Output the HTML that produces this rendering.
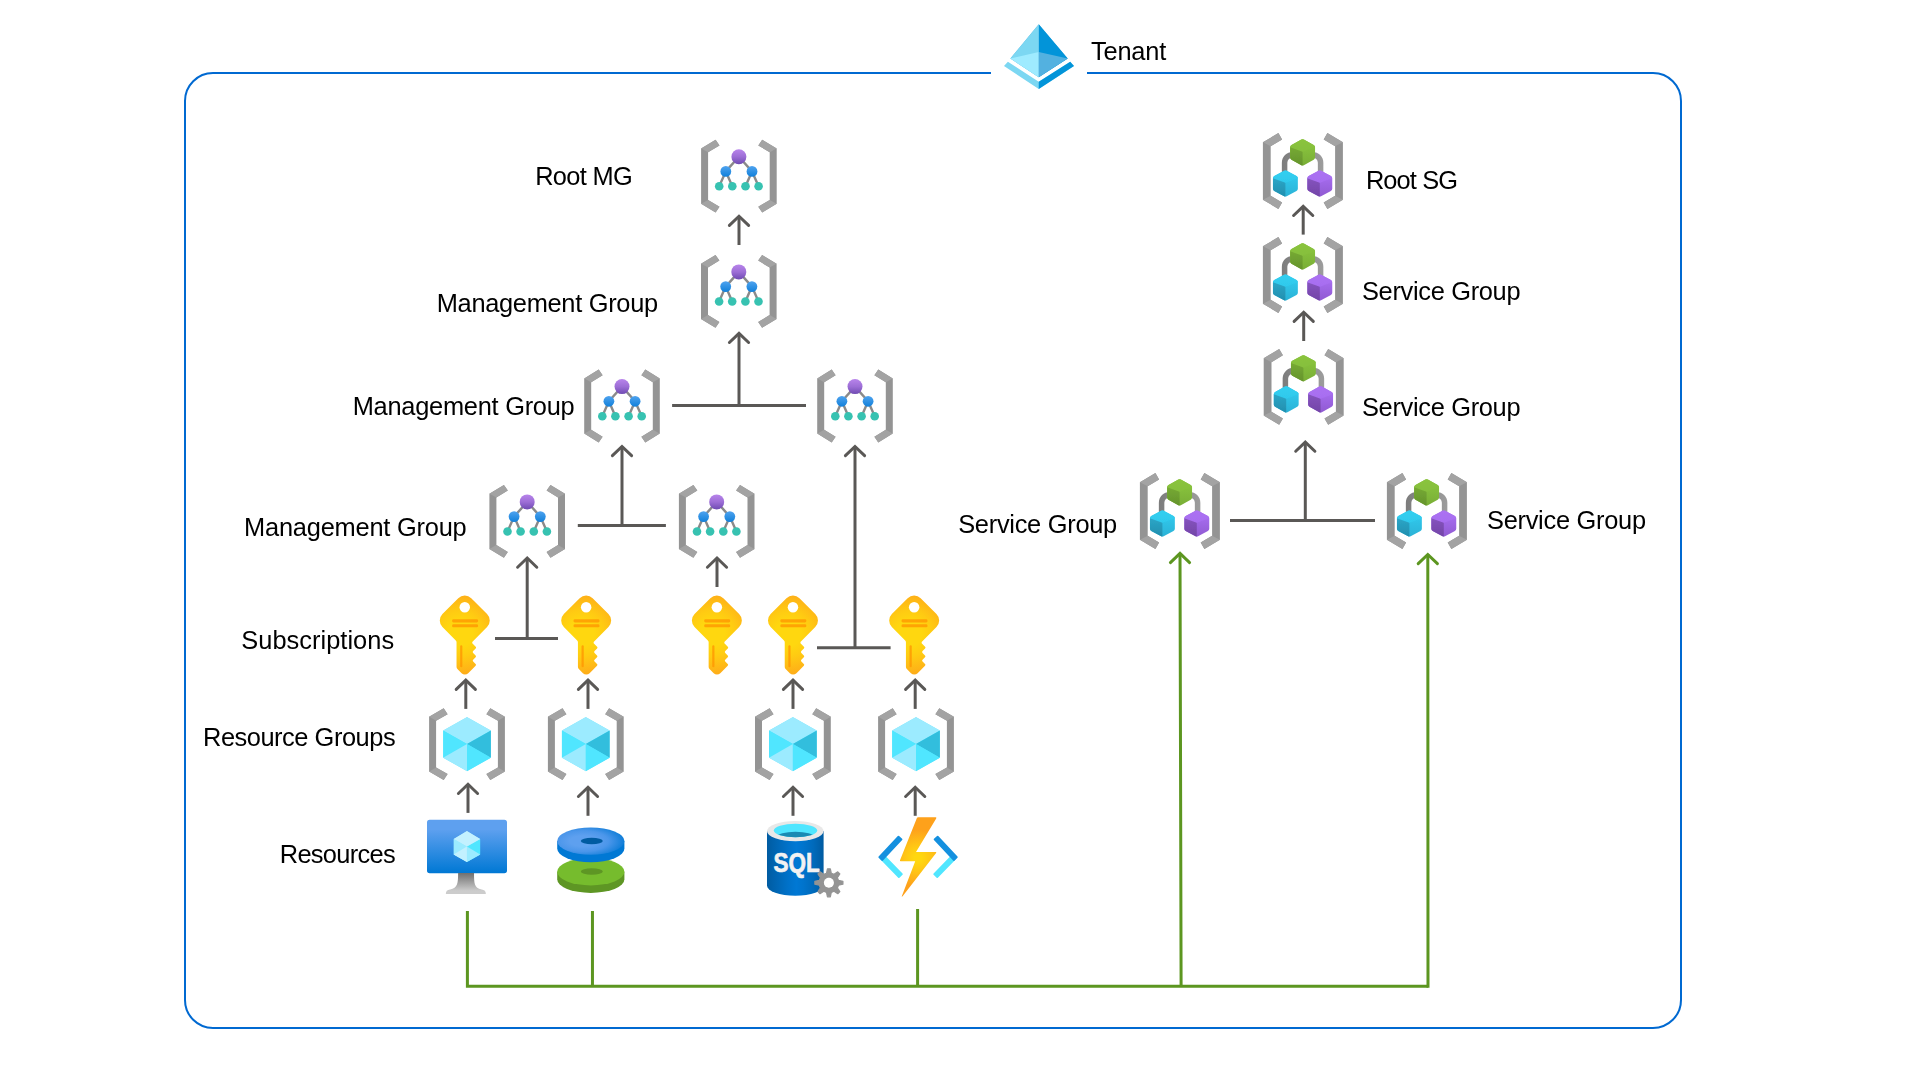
<!DOCTYPE html>
<html lang="en"><head><meta charset="utf-8"><title>Tenant hierarchy</title>
<style>html,body{margin:0;padding:0;background:#fff;}body{width:1920px;height:1080px;overflow:hidden;}svg{display:block;}text{font-family:"Liberation Sans",sans-serif;}.lbl text{font-size:25.4px;fill:#000;}</style></head><body>
<svg width="1920" height="1080" viewBox="0 0 1920 1080">
<defs>
<linearGradient id="gPurple" x1="0" y1="0" x2="0" y2="1"><stop offset="0" stop-color="#b884eb"/><stop offset="0.5" stop-color="#9d6ed6"/><stop offset="1" stop-color="#6f4bb2"/></linearGradient>
<linearGradient id="gBlueC" x1="0" y1="0" x2="0" y2="1"><stop offset="0" stop-color="#4fa3ef"/><stop offset="1" stop-color="#1180da"/></linearGradient>
<linearGradient id="gConn" gradientUnits="userSpaceOnUse" x1="-20" y1="0" x2="20" y2="0"><stop offset="0" stop-color="#7d7d7d"/><stop offset="1" stop-color="#9c9c9c"/></linearGradient>
<radialGradient id="gKey" gradientUnits="userSpaceOnUse" cx="7.45" cy="8.7" r="10.5"><stop offset="0.27" stop-color="#ffd70f"/><stop offset="0.49" stop-color="#ffcb12"/><stop offset="0.88" stop-color="#feac19"/><stop offset="1" stop-color="#fea11b"/></radialGradient>
<linearGradient id="gVM" x1="0" y1="1" x2="0" y2="0"><stop offset="0" stop-color="#0078d4"/><stop offset="0.82" stop-color="#5ea0ef"/></linearGradient>
<linearGradient id="gStand" x1="0" y1="1" x2="0" y2="0"><stop offset="0.15" stop-color="#ccc"/><stop offset="1" stop-color="#707070"/></linearGradient>
<radialGradient id="gDisk" cx="0.38" cy="0.5" r="0.64"><stop offset="0.3" stop-color="#5ea0ef"/><stop offset="0.6" stop-color="#4b96ea"/><stop offset="1" stop-color="#0a7bd6"/></radialGradient>
<linearGradient id="gSQL" x1="0" y1="0" x2="1" y2="0"><stop offset="0" stop-color="#005ba1"/><stop offset="0.07" stop-color="#0060a9"/><stop offset="0.36" stop-color="#0071c8"/><stop offset="0.52" stop-color="#0078d4"/><stop offset="0.64" stop-color="#0074cd"/><stop offset="0.82" stop-color="#006abb"/><stop offset="1" stop-color="#005ba1"/></linearGradient>
<radialGradient id="gBolt" gradientUnits="userSpaceOnUse" cx="40" cy="41" r="38"><stop offset="0.1" stop-color="#ffd70f"/><stop offset="0.35" stop-color="#ffc515"/><stop offset="0.75" stop-color="#fea11b"/><stop offset="1" stop-color="#fea11b"/></radialGradient>
<clipPath id="cpGr"><path d="M-1.24,-31.38 A2.6,2.6 0 0 1 1.24,-31.38 L11.09,-26.06 A2.6,2.6 0 0 1 12.45,-23.77 L12.45,-13.43 A2.6,2.6 0 0 1 11.09,-11.14 L1.24,-5.82 A2.6,2.6 0 0 1 -1.24,-5.82 L-11.09,-11.14 A2.6,2.6 0 0 1 -12.45,-13.43 L-12.45,-23.77 A2.6,2.6 0 0 1 -11.09,-26.06Z"/></clipPath><clipPath id="cpCy"><path d="M-18.44,-0.28 A2.6,2.6 0 0 1 -15.96,-0.28 L-6.11,5.04 A2.6,2.6 0 0 1 -4.75,7.33 L-4.75,17.67 A2.6,2.6 0 0 1 -6.11,19.96 L-15.96,25.28 A2.6,2.6 0 0 1 -18.44,25.28 L-28.29,19.96 A2.6,2.6 0 0 1 -29.65,17.67 L-29.65,7.33 A2.6,2.6 0 0 1 -28.29,5.04Z"/></clipPath><clipPath id="cpPu"><path d="M15.96,-0.28 A2.6,2.6 0 0 1 18.44,-0.28 L28.29,5.04 A2.6,2.6 0 0 1 29.65,7.33 L29.65,17.67 A2.6,2.6 0 0 1 28.29,19.96 L18.44,25.28 A2.6,2.6 0 0 1 15.96,25.28 L6.11,19.96 A2.6,2.6 0 0 1 4.75,17.67 L4.75,7.33 A2.6,2.6 0 0 1 6.11,5.04Z"/></clipPath><linearGradient id="gGrT" x1="0" y1="0" x2="0" y2="1"><stop offset="0" stop-color="#8cc63f"/><stop offset="1" stop-color="#86bf3c"/></linearGradient><linearGradient id="gGrL" x1="0" y1="0" x2="0" y2="1"><stop offset="0.3" stop-color="#74a733"/><stop offset="1" stop-color="#5f8c29"/></linearGradient><linearGradient id="gGrR" x1="0" y1="0" x2="0" y2="1"><stop offset="0.3" stop-color="#86c03c"/><stop offset="1" stop-color="#79ae36"/></linearGradient><linearGradient id="gCyT" x1="0" y1="0" x2="0" y2="1"><stop offset="0" stop-color="#33d2f2"/><stop offset="1" stop-color="#2fc9ec"/></linearGradient><linearGradient id="gCyL" x1="0" y1="0" x2="0" y2="1"><stop offset="0.3" stop-color="#2aa3c4"/><stop offset="1" stop-color="#1f87a6"/></linearGradient><linearGradient id="gCyR" x1="0" y1="0" x2="0" y2="1"><stop offset="0.3" stop-color="#30c6ea"/><stop offset="1" stop-color="#2bb2d6"/></linearGradient><linearGradient id="gPuT" x1="0" y1="0" x2="0" y2="1"><stop offset="0" stop-color="#ae74f3"/><stop offset="1" stop-color="#a76df0"/></linearGradient><linearGradient id="gPuL" x1="0" y1="0" x2="0" y2="1"><stop offset="0.3" stop-color="#8352bb"/><stop offset="1" stop-color="#6c3f9f"/></linearGradient><linearGradient id="gPuR" x1="0" y1="0" x2="0" y2="1"><stop offset="0.3" stop-color="#a46bec"/><stop offset="1" stop-color="#905ad2"/></linearGradient><filter id="soft" x="-10%" y="-10%" width="120%" height="120%"><feGaussianBlur stdDeviation="0.45"/></filter>
</defs>
<path d="M1087,73 H1653 A28,28 0 0 1 1681,101 V1000 A28,28 0 0 1 1653,1028 H213 A28,28 0 0 1 185,1000 V101 A28,28 0 0 1 213,73 H991" fill="none" stroke="#0069d1" stroke-width="2"/>
<polygon points="1038.75,24.2 1067.7,58.5 1038.75,77.3 1010.4,58.5" fill="#53b1e0"/><polygon points="1038.75,24.2 1010.4,58.5 1038.75,77.3" fill="#7cd7f2"/><polygon points="1038.95,24.4 1067.7,58.5 1038.95,77.1" fill="#0294d9"/><polygon points="1010.4,58.5 1038.75,51.9 1038.75,77.3" fill="#9febff"/><polygon points="1067.7,58.5 1038.75,51.9 1038.75,77.3" fill="#53b1e0"/><polygon points="1004,66 1007.9,61.7 1038.75,81.8 1070.2,61.7 1074,66 1038.75,89" fill="#7cd7f2"/><polygon points="1074,66 1070.2,61.7 1038.75,81.8 1038.75,89" fill="#0294d9"/>
<path d="M739,245 V216.22" stroke="#5a5856" stroke-width="3" fill="none"/><path d="M729.40,225.42 L739,216.22 L748.60,225.42" stroke="#5a5856" stroke-width="3" fill="none" stroke-linecap="round" stroke-linejoin="miter"/>
<path d="M739,405.5 V333.32" stroke="#5a5856" stroke-width="3" fill="none"/><path d="M729.40,342.52 L739,333.32 L748.60,342.52" stroke="#5a5856" stroke-width="3" fill="none" stroke-linecap="round" stroke-linejoin="miter"/>
<path d="M672.1,405.5 H806" stroke="#5a5856" stroke-width="3" fill="none"/>
<path d="M622,525.6 V446.47" stroke="#5a5856" stroke-width="3" fill="none"/><path d="M612.40,455.67 L622,446.47 L631.60,455.67" stroke="#5a5856" stroke-width="3" fill="none" stroke-linecap="round" stroke-linejoin="miter"/>
<path d="M577.8,525.6 H665.9" stroke="#5a5856" stroke-width="3" fill="none"/>
<path d="M855,647.8 V446.47" stroke="#5a5856" stroke-width="3" fill="none"/><path d="M845.40,455.67 L855,446.47 L864.60,455.67" stroke="#5a5856" stroke-width="3" fill="none" stroke-linecap="round" stroke-linejoin="miter"/>
<path d="M817,647.8 H890.6" stroke="#5a5856" stroke-width="3" fill="none"/>
<path d="M527.2,638.5 V558.02" stroke="#5a5856" stroke-width="3" fill="none"/><path d="M517.60,567.22 L527.2,558.02 L536.80,567.22" stroke="#5a5856" stroke-width="3" fill="none" stroke-linecap="round" stroke-linejoin="miter"/>
<path d="M495,638.5 H558" stroke="#5a5856" stroke-width="3" fill="none"/>
<path d="M717,587 V558.02" stroke="#5a5856" stroke-width="3" fill="none"/><path d="M707.40,567.22 L717,558.02 L726.60,567.22" stroke="#5a5856" stroke-width="3" fill="none" stroke-linecap="round" stroke-linejoin="miter"/>
<path d="M465.8,708.9 V680.17" stroke="#5a5856" stroke-width="3" fill="none"/><path d="M456.20,689.37 L465.8,680.17 L475.40,689.37" stroke="#5a5856" stroke-width="3" fill="none" stroke-linecap="round" stroke-linejoin="miter"/>
<path d="M588,708.9 V680.17" stroke="#5a5856" stroke-width="3" fill="none"/><path d="M578.40,689.37 L588,680.17 L597.60,689.37" stroke="#5a5856" stroke-width="3" fill="none" stroke-linecap="round" stroke-linejoin="miter"/>
<path d="M793,708.9 V680.17" stroke="#5a5856" stroke-width="3" fill="none"/><path d="M783.40,689.37 L793,680.17 L802.60,689.37" stroke="#5a5856" stroke-width="3" fill="none" stroke-linecap="round" stroke-linejoin="miter"/>
<path d="M915.2,708.9 V680.17" stroke="#5a5856" stroke-width="3" fill="none"/><path d="M905.60,689.37 L915.2,680.17 L924.80,689.37" stroke="#5a5856" stroke-width="3" fill="none" stroke-linecap="round" stroke-linejoin="miter"/>
<path d="M468,812.9 V784.27" stroke="#5a5856" stroke-width="3" fill="none"/><path d="M458.40,793.47 L468,784.27 L477.60,793.47" stroke="#5a5856" stroke-width="3" fill="none" stroke-linecap="round" stroke-linejoin="miter"/>
<path d="M588,815.8 V787.27" stroke="#5a5856" stroke-width="3" fill="none"/><path d="M578.40,796.47 L588,787.27 L597.60,796.47" stroke="#5a5856" stroke-width="3" fill="none" stroke-linecap="round" stroke-linejoin="miter"/>
<path d="M793,815.8 V787.27" stroke="#5a5856" stroke-width="3" fill="none"/><path d="M783.40,796.47 L793,787.27 L802.60,796.47" stroke="#5a5856" stroke-width="3" fill="none" stroke-linecap="round" stroke-linejoin="miter"/>
<path d="M915.2,815.8 V787.27" stroke="#5a5856" stroke-width="3" fill="none"/><path d="M905.60,796.47 L915.2,787.27 L924.80,796.47" stroke="#5a5856" stroke-width="3" fill="none" stroke-linecap="round" stroke-linejoin="miter"/>
<path d="M1303.2,234.6 V206.32" stroke="#5a5856" stroke-width="3" fill="none"/><path d="M1293.60,215.52 L1303.2,206.32 L1312.80,215.52" stroke="#5a5856" stroke-width="3" fill="none" stroke-linecap="round" stroke-linejoin="miter"/>
<path d="M1303.7,341 V312.22" stroke="#5a5856" stroke-width="3" fill="none"/><path d="M1294.10,321.42 L1303.7,312.22 L1313.30,321.42" stroke="#5a5856" stroke-width="3" fill="none" stroke-linecap="round" stroke-linejoin="miter"/>
<path d="M1305.3,520.4 V442.07" stroke="#5a5856" stroke-width="3" fill="none"/><path d="M1295.70,451.27 L1305.3,442.07 L1314.90,451.27" stroke="#5a5856" stroke-width="3" fill="none" stroke-linecap="round" stroke-linejoin="miter"/>
<path d="M1230,520.4 H1375" stroke="#5a5856" stroke-width="3" fill="none"/>
<path d="M467.4,910.9 V986.35 H1428 M592.45,910.9 V986.35 M917.6,908.9 V986.35" fill="none" stroke="#5c9620" stroke-width="3" stroke-linejoin="miter"/>
<path d="M1181.1,986.35 L1180,553 M1428,987.85 L1427.8,554" fill="none" stroke="#5c9620" stroke-width="3"/>
<path d="M1180,556 V553.37" stroke="#5c9620" stroke-width="3" fill="none"/><path d="M1170.40,562.57 L1180,553.37 L1189.60,562.57" stroke="#5c9620" stroke-width="3" fill="none" stroke-linecap="round" stroke-linejoin="miter"/>
<path d="M1427.8,557 V554.47" stroke="#5c9620" stroke-width="3" fill="none"/><path d="M1418.20,563.67 L1427.8,554.47 L1437.40,563.67" stroke="#5c9620" stroke-width="3" fill="none" stroke-linecap="round" stroke-linejoin="miter"/>
<g transform="translate(738.9,176.1)"><polygon points="-37.80,-27.60 -23.30,-36.40 -19.40,-30.70 -30.80,-23.80 -30.80,23.80 -19.40,30.70 -23.30,36.40 -37.80,27.60" fill="#949494"/><polygon points="-37.80,-27.60 -23.30,-36.40 -19.40,-30.70 -30.80,-23.80" fill="#a3a3a3"/><polygon points="-37.80,27.60 -23.30,36.40 -19.40,30.70 -30.80,23.80" fill="#a3a3a3"/><polygon points="37.80,-27.60 23.30,-36.40 19.40,-30.70 30.80,-23.80 30.80,23.80 19.40,30.70 23.30,36.40 37.80,27.60" fill="#949494"/><polygon points="37.80,-27.60 23.30,-36.40 19.40,-30.70 30.80,-23.80" fill="#a3a3a3"/><polygon points="37.80,27.60 23.30,36.40 19.40,30.70 30.80,23.80" fill="#a3a3a3"/><g stroke="#8a8a8a" stroke-width="2.4" fill="none"><path d="M0,-19.4 L-13.1,-4.7 M0,-19.4 L13.1,-4.7 M-13.1,-4.7 L-19.7,10.2 M-13.1,-4.7 L-6.6,10.2 M13.1,-4.7 L6.6,10.2 M13.1,-4.7 L19.7,10.2"/></g><circle cx="0" cy="-19.4" r="7.5" fill="url(#gPurple)"/><circle cx="-13.1" cy="-4.7" r="5.4" fill="url(#gBlueC)"/><circle cx="13.1" cy="-4.7" r="5.4" fill="url(#gBlueC)"/><circle cx="-19.7" cy="10.2" r="4.3" fill="#37c2b1"/><circle cx="-6.6" cy="10.2" r="4.3" fill="#37c2b1"/><circle cx="6.6" cy="10.2" r="4.3" fill="#37c2b1"/><circle cx="19.7" cy="10.2" r="4.3" fill="#37c2b1"/></g>
<g transform="translate(738.8,291.3)"><polygon points="-37.80,-27.60 -23.30,-36.40 -19.40,-30.70 -30.80,-23.80 -30.80,23.80 -19.40,30.70 -23.30,36.40 -37.80,27.60" fill="#949494"/><polygon points="-37.80,-27.60 -23.30,-36.40 -19.40,-30.70 -30.80,-23.80" fill="#a3a3a3"/><polygon points="-37.80,27.60 -23.30,36.40 -19.40,30.70 -30.80,23.80" fill="#a3a3a3"/><polygon points="37.80,-27.60 23.30,-36.40 19.40,-30.70 30.80,-23.80 30.80,23.80 19.40,30.70 23.30,36.40 37.80,27.60" fill="#949494"/><polygon points="37.80,-27.60 23.30,-36.40 19.40,-30.70 30.80,-23.80" fill="#a3a3a3"/><polygon points="37.80,27.60 23.30,36.40 19.40,30.70 30.80,23.80" fill="#a3a3a3"/><g stroke="#8a8a8a" stroke-width="2.4" fill="none"><path d="M0,-19.4 L-13.1,-4.7 M0,-19.4 L13.1,-4.7 M-13.1,-4.7 L-19.7,10.2 M-13.1,-4.7 L-6.6,10.2 M13.1,-4.7 L6.6,10.2 M13.1,-4.7 L19.7,10.2"/></g><circle cx="0" cy="-19.4" r="7.5" fill="url(#gPurple)"/><circle cx="-13.1" cy="-4.7" r="5.4" fill="url(#gBlueC)"/><circle cx="13.1" cy="-4.7" r="5.4" fill="url(#gBlueC)"/><circle cx="-19.7" cy="10.2" r="4.3" fill="#37c2b1"/><circle cx="-6.6" cy="10.2" r="4.3" fill="#37c2b1"/><circle cx="6.6" cy="10.2" r="4.3" fill="#37c2b1"/><circle cx="19.7" cy="10.2" r="4.3" fill="#37c2b1"/></g>
<g transform="translate(622,406)"><polygon points="-37.80,-27.60 -23.30,-36.40 -19.40,-30.70 -30.80,-23.80 -30.80,23.80 -19.40,30.70 -23.30,36.40 -37.80,27.60" fill="#949494"/><polygon points="-37.80,-27.60 -23.30,-36.40 -19.40,-30.70 -30.80,-23.80" fill="#a3a3a3"/><polygon points="-37.80,27.60 -23.30,36.40 -19.40,30.70 -30.80,23.80" fill="#a3a3a3"/><polygon points="37.80,-27.60 23.30,-36.40 19.40,-30.70 30.80,-23.80 30.80,23.80 19.40,30.70 23.30,36.40 37.80,27.60" fill="#949494"/><polygon points="37.80,-27.60 23.30,-36.40 19.40,-30.70 30.80,-23.80" fill="#a3a3a3"/><polygon points="37.80,27.60 23.30,36.40 19.40,30.70 30.80,23.80" fill="#a3a3a3"/><g stroke="#8a8a8a" stroke-width="2.4" fill="none"><path d="M0,-19.4 L-13.1,-4.7 M0,-19.4 L13.1,-4.7 M-13.1,-4.7 L-19.7,10.2 M-13.1,-4.7 L-6.6,10.2 M13.1,-4.7 L6.6,10.2 M13.1,-4.7 L19.7,10.2"/></g><circle cx="0" cy="-19.4" r="7.5" fill="url(#gPurple)"/><circle cx="-13.1" cy="-4.7" r="5.4" fill="url(#gBlueC)"/><circle cx="13.1" cy="-4.7" r="5.4" fill="url(#gBlueC)"/><circle cx="-19.7" cy="10.2" r="4.3" fill="#37c2b1"/><circle cx="-6.6" cy="10.2" r="4.3" fill="#37c2b1"/><circle cx="6.6" cy="10.2" r="4.3" fill="#37c2b1"/><circle cx="19.7" cy="10.2" r="4.3" fill="#37c2b1"/></g>
<g transform="translate(855,406)"><polygon points="-37.80,-27.60 -23.30,-36.40 -19.40,-30.70 -30.80,-23.80 -30.80,23.80 -19.40,30.70 -23.30,36.40 -37.80,27.60" fill="#949494"/><polygon points="-37.80,-27.60 -23.30,-36.40 -19.40,-30.70 -30.80,-23.80" fill="#a3a3a3"/><polygon points="-37.80,27.60 -23.30,36.40 -19.40,30.70 -30.80,23.80" fill="#a3a3a3"/><polygon points="37.80,-27.60 23.30,-36.40 19.40,-30.70 30.80,-23.80 30.80,23.80 19.40,30.70 23.30,36.40 37.80,27.60" fill="#949494"/><polygon points="37.80,-27.60 23.30,-36.40 19.40,-30.70 30.80,-23.80" fill="#a3a3a3"/><polygon points="37.80,27.60 23.30,36.40 19.40,30.70 30.80,23.80" fill="#a3a3a3"/><g stroke="#8a8a8a" stroke-width="2.4" fill="none"><path d="M0,-19.4 L-13.1,-4.7 M0,-19.4 L13.1,-4.7 M-13.1,-4.7 L-19.7,10.2 M-13.1,-4.7 L-6.6,10.2 M13.1,-4.7 L6.6,10.2 M13.1,-4.7 L19.7,10.2"/></g><circle cx="0" cy="-19.4" r="7.5" fill="url(#gPurple)"/><circle cx="-13.1" cy="-4.7" r="5.4" fill="url(#gBlueC)"/><circle cx="13.1" cy="-4.7" r="5.4" fill="url(#gBlueC)"/><circle cx="-19.7" cy="10.2" r="4.3" fill="#37c2b1"/><circle cx="-6.6" cy="10.2" r="4.3" fill="#37c2b1"/><circle cx="6.6" cy="10.2" r="4.3" fill="#37c2b1"/><circle cx="19.7" cy="10.2" r="4.3" fill="#37c2b1"/></g>
<g transform="translate(527.2,521.3)"><polygon points="-37.80,-27.60 -23.30,-36.40 -19.40,-30.70 -30.80,-23.80 -30.80,23.80 -19.40,30.70 -23.30,36.40 -37.80,27.60" fill="#949494"/><polygon points="-37.80,-27.60 -23.30,-36.40 -19.40,-30.70 -30.80,-23.80" fill="#a3a3a3"/><polygon points="-37.80,27.60 -23.30,36.40 -19.40,30.70 -30.80,23.80" fill="#a3a3a3"/><polygon points="37.80,-27.60 23.30,-36.40 19.40,-30.70 30.80,-23.80 30.80,23.80 19.40,30.70 23.30,36.40 37.80,27.60" fill="#949494"/><polygon points="37.80,-27.60 23.30,-36.40 19.40,-30.70 30.80,-23.80" fill="#a3a3a3"/><polygon points="37.80,27.60 23.30,36.40 19.40,30.70 30.80,23.80" fill="#a3a3a3"/><g stroke="#8a8a8a" stroke-width="2.4" fill="none"><path d="M0,-19.4 L-13.1,-4.7 M0,-19.4 L13.1,-4.7 M-13.1,-4.7 L-19.7,10.2 M-13.1,-4.7 L-6.6,10.2 M13.1,-4.7 L6.6,10.2 M13.1,-4.7 L19.7,10.2"/></g><circle cx="0" cy="-19.4" r="7.5" fill="url(#gPurple)"/><circle cx="-13.1" cy="-4.7" r="5.4" fill="url(#gBlueC)"/><circle cx="13.1" cy="-4.7" r="5.4" fill="url(#gBlueC)"/><circle cx="-19.7" cy="10.2" r="4.3" fill="#37c2b1"/><circle cx="-6.6" cy="10.2" r="4.3" fill="#37c2b1"/><circle cx="6.6" cy="10.2" r="4.3" fill="#37c2b1"/><circle cx="19.7" cy="10.2" r="4.3" fill="#37c2b1"/></g>
<g transform="translate(716.7,521.3)"><polygon points="-37.80,-27.60 -23.30,-36.40 -19.40,-30.70 -30.80,-23.80 -30.80,23.80 -19.40,30.70 -23.30,36.40 -37.80,27.60" fill="#949494"/><polygon points="-37.80,-27.60 -23.30,-36.40 -19.40,-30.70 -30.80,-23.80" fill="#a3a3a3"/><polygon points="-37.80,27.60 -23.30,36.40 -19.40,30.70 -30.80,23.80" fill="#a3a3a3"/><polygon points="37.80,-27.60 23.30,-36.40 19.40,-30.70 30.80,-23.80 30.80,23.80 19.40,30.70 23.30,36.40 37.80,27.60" fill="#949494"/><polygon points="37.80,-27.60 23.30,-36.40 19.40,-30.70 30.80,-23.80" fill="#a3a3a3"/><polygon points="37.80,27.60 23.30,36.40 19.40,30.70 30.80,23.80" fill="#a3a3a3"/><g stroke="#8a8a8a" stroke-width="2.4" fill="none"><path d="M0,-19.4 L-13.1,-4.7 M0,-19.4 L13.1,-4.7 M-13.1,-4.7 L-19.7,10.2 M-13.1,-4.7 L-6.6,10.2 M13.1,-4.7 L6.6,10.2 M13.1,-4.7 L19.7,10.2"/></g><circle cx="0" cy="-19.4" r="7.5" fill="url(#gPurple)"/><circle cx="-13.1" cy="-4.7" r="5.4" fill="url(#gBlueC)"/><circle cx="13.1" cy="-4.7" r="5.4" fill="url(#gBlueC)"/><circle cx="-19.7" cy="10.2" r="4.3" fill="#37c2b1"/><circle cx="-6.6" cy="10.2" r="4.3" fill="#37c2b1"/><circle cx="6.6" cy="10.2" r="4.3" fill="#37c2b1"/><circle cx="19.7" cy="10.2" r="4.3" fill="#37c2b1"/></g>
<g transform="translate(1302.6,171)"><g transform="translate(0.3,0)"><polygon points="-40.00,-28.70 -24.50,-37.90 -20.80,-31.60 -32.20,-24.75 -32.20,24.75 -20.80,31.60 -24.50,37.90 -40.00,28.70" fill="#949494"/><polygon points="-40.00,-28.70 -24.50,-37.90 -20.80,-31.60 -32.20,-24.75" fill="#a3a3a3"/><polygon points="-40.00,28.70 -24.50,37.90 -20.80,31.60 -32.20,24.75" fill="#a3a3a3"/><polygon points="40.00,-28.70 24.50,-37.90 20.80,-31.60 32.20,-24.75 32.20,24.75 20.80,31.60 24.50,37.90 40.00,28.70" fill="#949494"/><polygon points="40.00,-28.70 24.50,-37.90 20.80,-31.60 32.20,-24.75" fill="#a3a3a3"/><polygon points="40.00,28.70 24.50,37.90 20.80,31.60 32.20,24.75" fill="#a3a3a3"/></g><path d="M-6,-16.3 H-10 A8,8 0 0 0 -18,-8.3 V2 M6,-16.3 H10 A8,8 0 0 1 18,-8.3 V2" fill="none" stroke="url(#gConn)" stroke-width="5.5"/><path d="M-1.24,-31.38 A2.6,2.6 0 0 1 1.24,-31.38 L11.09,-26.06 A2.6,2.6 0 0 1 12.45,-23.77 L12.45,-13.43 A2.6,2.6 0 0 1 11.09,-11.14 L1.24,-5.82 A2.6,2.6 0 0 1 -1.24,-5.82 L-11.09,-11.14 A2.6,2.6 0 0 1 -12.45,-13.43 L-12.45,-23.77 A2.6,2.6 0 0 1 -11.09,-26.06Z" fill="url(#gGrR)"/><g clip-path="url(#cpGr)" filter="url(#soft)"><polygon points="-18.45,-31.325000000000003 0,-19.5 0,0.8499999999999979 -18.45,0.8499999999999979" fill="url(#gGrL)"/><polygon points="-18.45,-26.025000000000002 0,-19.3 18.45,-26.025000000000002 18.45,-38.05 -18.45,-38.05" fill="url(#gGrT)"/></g><path d="M-18.44,-0.28 A2.6,2.6 0 0 1 -15.96,-0.28 L-6.11,5.04 A2.6,2.6 0 0 1 -4.75,7.33 L-4.75,17.67 A2.6,2.6 0 0 1 -6.11,19.96 L-15.96,25.28 A2.6,2.6 0 0 1 -18.44,25.28 L-28.29,19.96 A2.6,2.6 0 0 1 -29.65,17.67 L-29.65,7.33 A2.6,2.6 0 0 1 -28.29,5.04Z" fill="url(#gCyR)"/><g clip-path="url(#cpCy)" filter="url(#soft)"><polygon points="-35.65,-0.22499999999999964 -17.2,11.6 -17.2,31.95 -35.65,31.95" fill="url(#gCyL)"/><polygon points="-35.65,5.075 -17.2,11.8 1.25,5.075 1.25,-6.949999999999999 -35.65,-6.949999999999999" fill="url(#gCyT)"/></g><path d="M15.96,-0.28 A2.6,2.6 0 0 1 18.44,-0.28 L28.29,5.04 A2.6,2.6 0 0 1 29.65,7.33 L29.65,17.67 A2.6,2.6 0 0 1 28.29,19.96 L18.44,25.28 A2.6,2.6 0 0 1 15.96,25.28 L6.11,19.96 A2.6,2.6 0 0 1 4.75,17.67 L4.75,7.33 A2.6,2.6 0 0 1 6.11,5.04Z" fill="url(#gPuR)"/><g clip-path="url(#cpPu)" filter="url(#soft)"><polygon points="-1.25,-0.22499999999999964 17.2,11.6 17.2,31.95 -1.25,31.95" fill="url(#gPuL)"/><polygon points="-1.25,5.075 17.2,11.8 35.65,5.075 35.65,-6.949999999999999 -1.25,-6.949999999999999" fill="url(#gPuT)"/></g></g>
<g transform="translate(1302.6,275)"><g transform="translate(0.3,0)"><polygon points="-40.00,-28.70 -24.50,-37.90 -20.80,-31.60 -32.20,-24.75 -32.20,24.75 -20.80,31.60 -24.50,37.90 -40.00,28.70" fill="#949494"/><polygon points="-40.00,-28.70 -24.50,-37.90 -20.80,-31.60 -32.20,-24.75" fill="#a3a3a3"/><polygon points="-40.00,28.70 -24.50,37.90 -20.80,31.60 -32.20,24.75" fill="#a3a3a3"/><polygon points="40.00,-28.70 24.50,-37.90 20.80,-31.60 32.20,-24.75 32.20,24.75 20.80,31.60 24.50,37.90 40.00,28.70" fill="#949494"/><polygon points="40.00,-28.70 24.50,-37.90 20.80,-31.60 32.20,-24.75" fill="#a3a3a3"/><polygon points="40.00,28.70 24.50,37.90 20.80,31.60 32.20,24.75" fill="#a3a3a3"/></g><path d="M-6,-16.3 H-10 A8,8 0 0 0 -18,-8.3 V2 M6,-16.3 H10 A8,8 0 0 1 18,-8.3 V2" fill="none" stroke="url(#gConn)" stroke-width="5.5"/><path d="M-1.24,-31.38 A2.6,2.6 0 0 1 1.24,-31.38 L11.09,-26.06 A2.6,2.6 0 0 1 12.45,-23.77 L12.45,-13.43 A2.6,2.6 0 0 1 11.09,-11.14 L1.24,-5.82 A2.6,2.6 0 0 1 -1.24,-5.82 L-11.09,-11.14 A2.6,2.6 0 0 1 -12.45,-13.43 L-12.45,-23.77 A2.6,2.6 0 0 1 -11.09,-26.06Z" fill="url(#gGrR)"/><g clip-path="url(#cpGr)" filter="url(#soft)"><polygon points="-18.45,-31.325000000000003 0,-19.5 0,0.8499999999999979 -18.45,0.8499999999999979" fill="url(#gGrL)"/><polygon points="-18.45,-26.025000000000002 0,-19.3 18.45,-26.025000000000002 18.45,-38.05 -18.45,-38.05" fill="url(#gGrT)"/></g><path d="M-18.44,-0.28 A2.6,2.6 0 0 1 -15.96,-0.28 L-6.11,5.04 A2.6,2.6 0 0 1 -4.75,7.33 L-4.75,17.67 A2.6,2.6 0 0 1 -6.11,19.96 L-15.96,25.28 A2.6,2.6 0 0 1 -18.44,25.28 L-28.29,19.96 A2.6,2.6 0 0 1 -29.65,17.67 L-29.65,7.33 A2.6,2.6 0 0 1 -28.29,5.04Z" fill="url(#gCyR)"/><g clip-path="url(#cpCy)" filter="url(#soft)"><polygon points="-35.65,-0.22499999999999964 -17.2,11.6 -17.2,31.95 -35.65,31.95" fill="url(#gCyL)"/><polygon points="-35.65,5.075 -17.2,11.8 1.25,5.075 1.25,-6.949999999999999 -35.65,-6.949999999999999" fill="url(#gCyT)"/></g><path d="M15.96,-0.28 A2.6,2.6 0 0 1 18.44,-0.28 L28.29,5.04 A2.6,2.6 0 0 1 29.65,7.33 L29.65,17.67 A2.6,2.6 0 0 1 28.29,19.96 L18.44,25.28 A2.6,2.6 0 0 1 15.96,25.28 L6.11,19.96 A2.6,2.6 0 0 1 4.75,17.67 L4.75,7.33 A2.6,2.6 0 0 1 6.11,5.04Z" fill="url(#gPuR)"/><g clip-path="url(#cpPu)" filter="url(#soft)"><polygon points="-1.25,-0.22499999999999964 17.2,11.6 17.2,31.95 -1.25,31.95" fill="url(#gPuL)"/><polygon points="-1.25,5.075 17.2,11.8 35.65,5.075 35.65,-6.949999999999999 -1.25,-6.949999999999999" fill="url(#gPuT)"/></g></g>
<g transform="translate(1303.4,386.9)"><g transform="translate(0.3,0)"><polygon points="-40.00,-28.70 -24.50,-37.90 -20.80,-31.60 -32.20,-24.75 -32.20,24.75 -20.80,31.60 -24.50,37.90 -40.00,28.70" fill="#949494"/><polygon points="-40.00,-28.70 -24.50,-37.90 -20.80,-31.60 -32.20,-24.75" fill="#a3a3a3"/><polygon points="-40.00,28.70 -24.50,37.90 -20.80,31.60 -32.20,24.75" fill="#a3a3a3"/><polygon points="40.00,-28.70 24.50,-37.90 20.80,-31.60 32.20,-24.75 32.20,24.75 20.80,31.60 24.50,37.90 40.00,28.70" fill="#949494"/><polygon points="40.00,-28.70 24.50,-37.90 20.80,-31.60 32.20,-24.75" fill="#a3a3a3"/><polygon points="40.00,28.70 24.50,37.90 20.80,31.60 32.20,24.75" fill="#a3a3a3"/></g><path d="M-6,-16.3 H-10 A8,8 0 0 0 -18,-8.3 V2 M6,-16.3 H10 A8,8 0 0 1 18,-8.3 V2" fill="none" stroke="url(#gConn)" stroke-width="5.5"/><path d="M-1.24,-31.38 A2.6,2.6 0 0 1 1.24,-31.38 L11.09,-26.06 A2.6,2.6 0 0 1 12.45,-23.77 L12.45,-13.43 A2.6,2.6 0 0 1 11.09,-11.14 L1.24,-5.82 A2.6,2.6 0 0 1 -1.24,-5.82 L-11.09,-11.14 A2.6,2.6 0 0 1 -12.45,-13.43 L-12.45,-23.77 A2.6,2.6 0 0 1 -11.09,-26.06Z" fill="url(#gGrR)"/><g clip-path="url(#cpGr)" filter="url(#soft)"><polygon points="-18.45,-31.325000000000003 0,-19.5 0,0.8499999999999979 -18.45,0.8499999999999979" fill="url(#gGrL)"/><polygon points="-18.45,-26.025000000000002 0,-19.3 18.45,-26.025000000000002 18.45,-38.05 -18.45,-38.05" fill="url(#gGrT)"/></g><path d="M-18.44,-0.28 A2.6,2.6 0 0 1 -15.96,-0.28 L-6.11,5.04 A2.6,2.6 0 0 1 -4.75,7.33 L-4.75,17.67 A2.6,2.6 0 0 1 -6.11,19.96 L-15.96,25.28 A2.6,2.6 0 0 1 -18.44,25.28 L-28.29,19.96 A2.6,2.6 0 0 1 -29.65,17.67 L-29.65,7.33 A2.6,2.6 0 0 1 -28.29,5.04Z" fill="url(#gCyR)"/><g clip-path="url(#cpCy)" filter="url(#soft)"><polygon points="-35.65,-0.22499999999999964 -17.2,11.6 -17.2,31.95 -35.65,31.95" fill="url(#gCyL)"/><polygon points="-35.65,5.075 -17.2,11.8 1.25,5.075 1.25,-6.949999999999999 -35.65,-6.949999999999999" fill="url(#gCyT)"/></g><path d="M15.96,-0.28 A2.6,2.6 0 0 1 18.44,-0.28 L28.29,5.04 A2.6,2.6 0 0 1 29.65,7.33 L29.65,17.67 A2.6,2.6 0 0 1 28.29,19.96 L18.44,25.28 A2.6,2.6 0 0 1 15.96,25.28 L6.11,19.96 A2.6,2.6 0 0 1 4.75,17.67 L4.75,7.33 A2.6,2.6 0 0 1 6.11,5.04Z" fill="url(#gPuR)"/><g clip-path="url(#cpPu)" filter="url(#soft)"><polygon points="-1.25,-0.22499999999999964 17.2,11.6 17.2,31.95 -1.25,31.95" fill="url(#gPuL)"/><polygon points="-1.25,5.075 17.2,11.8 35.65,5.075 35.65,-6.949999999999999 -1.25,-6.949999999999999" fill="url(#gPuT)"/></g></g>
<g transform="translate(1179.6,511)"><g transform="translate(0.3,0)"><polygon points="-40.00,-28.70 -24.50,-37.90 -20.80,-31.60 -32.20,-24.75 -32.20,24.75 -20.80,31.60 -24.50,37.90 -40.00,28.70" fill="#949494"/><polygon points="-40.00,-28.70 -24.50,-37.90 -20.80,-31.60 -32.20,-24.75" fill="#a3a3a3"/><polygon points="-40.00,28.70 -24.50,37.90 -20.80,31.60 -32.20,24.75" fill="#a3a3a3"/><polygon points="40.00,-28.70 24.50,-37.90 20.80,-31.60 32.20,-24.75 32.20,24.75 20.80,31.60 24.50,37.90 40.00,28.70" fill="#949494"/><polygon points="40.00,-28.70 24.50,-37.90 20.80,-31.60 32.20,-24.75" fill="#a3a3a3"/><polygon points="40.00,28.70 24.50,37.90 20.80,31.60 32.20,24.75" fill="#a3a3a3"/></g><path d="M-6,-16.3 H-10 A8,8 0 0 0 -18,-8.3 V2 M6,-16.3 H10 A8,8 0 0 1 18,-8.3 V2" fill="none" stroke="url(#gConn)" stroke-width="5.5"/><path d="M-1.24,-31.38 A2.6,2.6 0 0 1 1.24,-31.38 L11.09,-26.06 A2.6,2.6 0 0 1 12.45,-23.77 L12.45,-13.43 A2.6,2.6 0 0 1 11.09,-11.14 L1.24,-5.82 A2.6,2.6 0 0 1 -1.24,-5.82 L-11.09,-11.14 A2.6,2.6 0 0 1 -12.45,-13.43 L-12.45,-23.77 A2.6,2.6 0 0 1 -11.09,-26.06Z" fill="url(#gGrR)"/><g clip-path="url(#cpGr)" filter="url(#soft)"><polygon points="-18.45,-31.325000000000003 0,-19.5 0,0.8499999999999979 -18.45,0.8499999999999979" fill="url(#gGrL)"/><polygon points="-18.45,-26.025000000000002 0,-19.3 18.45,-26.025000000000002 18.45,-38.05 -18.45,-38.05" fill="url(#gGrT)"/></g><path d="M-18.44,-0.28 A2.6,2.6 0 0 1 -15.96,-0.28 L-6.11,5.04 A2.6,2.6 0 0 1 -4.75,7.33 L-4.75,17.67 A2.6,2.6 0 0 1 -6.11,19.96 L-15.96,25.28 A2.6,2.6 0 0 1 -18.44,25.28 L-28.29,19.96 A2.6,2.6 0 0 1 -29.65,17.67 L-29.65,7.33 A2.6,2.6 0 0 1 -28.29,5.04Z" fill="url(#gCyR)"/><g clip-path="url(#cpCy)" filter="url(#soft)"><polygon points="-35.65,-0.22499999999999964 -17.2,11.6 -17.2,31.95 -35.65,31.95" fill="url(#gCyL)"/><polygon points="-35.65,5.075 -17.2,11.8 1.25,5.075 1.25,-6.949999999999999 -35.65,-6.949999999999999" fill="url(#gCyT)"/></g><path d="M15.96,-0.28 A2.6,2.6 0 0 1 18.44,-0.28 L28.29,5.04 A2.6,2.6 0 0 1 29.65,7.33 L29.65,17.67 A2.6,2.6 0 0 1 28.29,19.96 L18.44,25.28 A2.6,2.6 0 0 1 15.96,25.28 L6.11,19.96 A2.6,2.6 0 0 1 4.75,17.67 L4.75,7.33 A2.6,2.6 0 0 1 6.11,5.04Z" fill="url(#gPuR)"/><g clip-path="url(#cpPu)" filter="url(#soft)"><polygon points="-1.25,-0.22499999999999964 17.2,11.6 17.2,31.95 -1.25,31.95" fill="url(#gPuL)"/><polygon points="-1.25,5.075 17.2,11.8 35.65,5.075 35.65,-6.949999999999999 -1.25,-6.949999999999999" fill="url(#gPuT)"/></g></g>
<g transform="translate(1426.6,511)"><g transform="translate(0.3,0)"><polygon points="-40.00,-28.70 -24.50,-37.90 -20.80,-31.60 -32.20,-24.75 -32.20,24.75 -20.80,31.60 -24.50,37.90 -40.00,28.70" fill="#949494"/><polygon points="-40.00,-28.70 -24.50,-37.90 -20.80,-31.60 -32.20,-24.75" fill="#a3a3a3"/><polygon points="-40.00,28.70 -24.50,37.90 -20.80,31.60 -32.20,24.75" fill="#a3a3a3"/><polygon points="40.00,-28.70 24.50,-37.90 20.80,-31.60 32.20,-24.75 32.20,24.75 20.80,31.60 24.50,37.90 40.00,28.70" fill="#949494"/><polygon points="40.00,-28.70 24.50,-37.90 20.80,-31.60 32.20,-24.75" fill="#a3a3a3"/><polygon points="40.00,28.70 24.50,37.90 20.80,31.60 32.20,24.75" fill="#a3a3a3"/></g><path d="M-6,-16.3 H-10 A8,8 0 0 0 -18,-8.3 V2 M6,-16.3 H10 A8,8 0 0 1 18,-8.3 V2" fill="none" stroke="url(#gConn)" stroke-width="5.5"/><path d="M-1.24,-31.38 A2.6,2.6 0 0 1 1.24,-31.38 L11.09,-26.06 A2.6,2.6 0 0 1 12.45,-23.77 L12.45,-13.43 A2.6,2.6 0 0 1 11.09,-11.14 L1.24,-5.82 A2.6,2.6 0 0 1 -1.24,-5.82 L-11.09,-11.14 A2.6,2.6 0 0 1 -12.45,-13.43 L-12.45,-23.77 A2.6,2.6 0 0 1 -11.09,-26.06Z" fill="url(#gGrR)"/><g clip-path="url(#cpGr)" filter="url(#soft)"><polygon points="-18.45,-31.325000000000003 0,-19.5 0,0.8499999999999979 -18.45,0.8499999999999979" fill="url(#gGrL)"/><polygon points="-18.45,-26.025000000000002 0,-19.3 18.45,-26.025000000000002 18.45,-38.05 -18.45,-38.05" fill="url(#gGrT)"/></g><path d="M-18.44,-0.28 A2.6,2.6 0 0 1 -15.96,-0.28 L-6.11,5.04 A2.6,2.6 0 0 1 -4.75,7.33 L-4.75,17.67 A2.6,2.6 0 0 1 -6.11,19.96 L-15.96,25.28 A2.6,2.6 0 0 1 -18.44,25.28 L-28.29,19.96 A2.6,2.6 0 0 1 -29.65,17.67 L-29.65,7.33 A2.6,2.6 0 0 1 -28.29,5.04Z" fill="url(#gCyR)"/><g clip-path="url(#cpCy)" filter="url(#soft)"><polygon points="-35.65,-0.22499999999999964 -17.2,11.6 -17.2,31.95 -35.65,31.95" fill="url(#gCyL)"/><polygon points="-35.65,5.075 -17.2,11.8 1.25,5.075 1.25,-6.949999999999999 -35.65,-6.949999999999999" fill="url(#gCyT)"/></g><path d="M15.96,-0.28 A2.6,2.6 0 0 1 18.44,-0.28 L28.29,5.04 A2.6,2.6 0 0 1 29.65,7.33 L29.65,17.67 A2.6,2.6 0 0 1 28.29,19.96 L18.44,25.28 A2.6,2.6 0 0 1 15.96,25.28 L6.11,19.96 A2.6,2.6 0 0 1 4.75,17.67 L4.75,7.33 A2.6,2.6 0 0 1 6.11,5.04Z" fill="url(#gPuR)"/><g clip-path="url(#cpPu)" filter="url(#soft)"><polygon points="-1.25,-0.22499999999999964 17.2,11.6 17.2,31.95 -1.25,31.95" fill="url(#gPuL)"/><polygon points="-1.25,5.075 17.2,11.8 35.65,5.075 35.65,-6.949999999999999 -1.25,-6.949999999999999" fill="url(#gPuT)"/></g></g>
<g transform="translate(426.8,595.1) scale(4.4444)"><path d="M13.56,7.19a2.07,2.07,0,0,0,0-2.93h0L10,.69a2.06,2.06,0,0,0-2.92,0h0L3.52,4.26a2.09,2.09,0,0,0,0,2.93l3,3a.61.61,0,0,1,.17.41v5.52a.7.7,0,0,0,.2.5l.94,.94a1.05,1.05,0,0,0,1.485,0l.895-.9h0l.77-.77a.26.26,0,0,0,0-.38l-.55-.56a.29.29,0,0,1,0-.42l.55-.56a.26.26,0,0,0,0-.38L10.430,13a.28.28,0,0,1,0-.41L11,12a.26.26,0,0,0,0-.38l-.77-.78v-.28Z" fill="url(#gKey)"/><circle cx="8.54" cy="2.73" r="1.18" fill="#fff"/><rect x="7.5" y="11.3" width="0.5" height="4.95" rx="0.25" fill="#ff9300" opacity="0.75"/><rect x="5.69" y="5.45" width="5.86" height="0.69" rx="0.32" fill="#ff9300" opacity="0.75"/><rect x="5.69" y="6.57" width="5.86" height="0.69" rx="0.32" fill="#ff9300" opacity="0.75"/></g>
<g transform="translate(548.2,595.1) scale(4.4444)"><path d="M13.56,7.19a2.07,2.07,0,0,0,0-2.93h0L10,.69a2.06,2.06,0,0,0-2.92,0h0L3.52,4.26a2.09,2.09,0,0,0,0,2.93l3,3a.61.61,0,0,1,.17.41v5.52a.7.7,0,0,0,.2.5l.94,.94a1.05,1.05,0,0,0,1.485,0l.895-.9h0l.77-.77a.26.26,0,0,0,0-.38l-.55-.56a.29.29,0,0,1,0-.42l.55-.56a.26.26,0,0,0,0-.38L10.430,13a.28.28,0,0,1,0-.41L11,12a.26.26,0,0,0,0-.38l-.77-.78v-.28Z" fill="url(#gKey)"/><circle cx="8.54" cy="2.73" r="1.18" fill="#fff"/><rect x="7.5" y="11.3" width="0.5" height="4.95" rx="0.25" fill="#ff9300" opacity="0.75"/><rect x="5.69" y="5.45" width="5.86" height="0.69" rx="0.32" fill="#ff9300" opacity="0.75"/><rect x="5.69" y="6.57" width="5.86" height="0.69" rx="0.32" fill="#ff9300" opacity="0.75"/></g>
<g transform="translate(678.9,595.1) scale(4.4444)"><path d="M13.56,7.19a2.07,2.07,0,0,0,0-2.93h0L10,.69a2.06,2.06,0,0,0-2.92,0h0L3.52,4.26a2.09,2.09,0,0,0,0,2.93l3,3a.61.61,0,0,1,.17.41v5.52a.7.7,0,0,0,.2.5l.94,.94a1.05,1.05,0,0,0,1.485,0l.895-.9h0l.77-.77a.26.26,0,0,0,0-.38l-.55-.56a.29.29,0,0,1,0-.42l.55-.56a.26.26,0,0,0,0-.38L10.430,13a.28.28,0,0,1,0-.41L11,12a.26.26,0,0,0,0-.38l-.77-.78v-.28Z" fill="url(#gKey)"/><circle cx="8.54" cy="2.73" r="1.18" fill="#fff"/><rect x="7.5" y="11.3" width="0.5" height="4.95" rx="0.25" fill="#ff9300" opacity="0.75"/><rect x="5.69" y="5.45" width="5.86" height="0.69" rx="0.32" fill="#ff9300" opacity="0.75"/><rect x="5.69" y="6.57" width="5.86" height="0.69" rx="0.32" fill="#ff9300" opacity="0.75"/></g>
<g transform="translate(755.0,595.1) scale(4.4444)"><path d="M13.56,7.19a2.07,2.07,0,0,0,0-2.93h0L10,.69a2.06,2.06,0,0,0-2.92,0h0L3.52,4.26a2.09,2.09,0,0,0,0,2.93l3,3a.61.61,0,0,1,.17.41v5.52a.7.7,0,0,0,.2.5l.94,.94a1.05,1.05,0,0,0,1.485,0l.895-.9h0l.77-.77a.26.26,0,0,0,0-.38l-.55-.56a.29.29,0,0,1,0-.42l.55-.56a.26.26,0,0,0,0-.38L10.430,13a.28.28,0,0,1,0-.41L11,12a.26.26,0,0,0,0-.38l-.77-.78v-.28Z" fill="url(#gKey)"/><circle cx="8.54" cy="2.73" r="1.18" fill="#fff"/><rect x="7.5" y="11.3" width="0.5" height="4.95" rx="0.25" fill="#ff9300" opacity="0.75"/><rect x="5.69" y="5.45" width="5.86" height="0.69" rx="0.32" fill="#ff9300" opacity="0.75"/><rect x="5.69" y="6.57" width="5.86" height="0.69" rx="0.32" fill="#ff9300" opacity="0.75"/></g>
<g transform="translate(876.2,595.1) scale(4.4444)"><path d="M13.56,7.19a2.07,2.07,0,0,0,0-2.93h0L10,.69a2.06,2.06,0,0,0-2.92,0h0L3.52,4.26a2.09,2.09,0,0,0,0,2.93l3,3a.61.61,0,0,1,.17.41v5.52a.7.7,0,0,0,.2.5l.94,.94a1.05,1.05,0,0,0,1.485,0l.895-.9h0l.77-.77a.26.26,0,0,0,0-.38l-.55-.56a.29.29,0,0,1,0-.42l.55-.56a.26.26,0,0,0,0-.38L10.430,13a.28.28,0,0,1,0-.41L11,12a.26.26,0,0,0,0-.38l-.77-.78v-.28Z" fill="url(#gKey)"/><circle cx="8.54" cy="2.73" r="1.18" fill="#fff"/><rect x="7.5" y="11.3" width="0.5" height="4.95" rx="0.25" fill="#ff9300" opacity="0.75"/><rect x="5.69" y="5.45" width="5.86" height="0.69" rx="0.32" fill="#ff9300" opacity="0.75"/><rect x="5.69" y="6.57" width="5.86" height="0.69" rx="0.32" fill="#ff9300" opacity="0.75"/></g>
<g transform="translate(467,744.1)"><polygon points="-37.90,-27.40 -23.30,-35.85 -19.40,-29.85 -30.90,-23.35 -30.90,23.35 -19.40,29.85 -23.30,35.85 -37.90,27.40" fill="#949494"/><polygon points="-37.90,-27.40 -23.30,-35.85 -19.40,-29.85 -30.90,-23.35" fill="#a3a3a3"/><polygon points="-37.90,27.40 -23.30,35.85 -19.40,29.85 -30.90,23.35" fill="#a3a3a3"/><polygon points="37.90,-27.40 23.30,-35.85 19.40,-29.85 30.90,-23.35 30.90,23.35 19.40,29.85 23.30,35.85 37.90,27.40" fill="#949494"/><polygon points="37.90,-27.40 23.30,-35.85 19.40,-29.85 30.90,-23.35" fill="#a3a3a3"/><polygon points="37.90,27.40 23.30,35.85 19.40,29.85 30.90,23.35" fill="#a3a3a3"/><polygon points="0,-26.9 23.599999999999998,-13.6 23.599999999999998,13.6 0,26.9 -23.599999999999998,13.6 -23.599999999999998,-13.6" fill="#50e6ff"/><polygon points="0,-27.2 23.9,-13.6 0,0 -23.9,-13.6" fill="#9cebff"/><polygon points="-23.9,-13.6 0,0 -23.9,13.6" fill="#50e6ff"/><polygon points="-23.9,13.6 0,0 0,27.2" fill="#9cebff"/><polygon points="23.9,-13.6 0,0 23.9,13.6" fill="#32bedd"/><polygon points="23.9,13.6 0,0 0,27.2" fill="#50e6ff"/></g>
<g transform="translate(585.8,744.1)"><polygon points="-37.90,-27.40 -23.30,-35.85 -19.40,-29.85 -30.90,-23.35 -30.90,23.35 -19.40,29.85 -23.30,35.85 -37.90,27.40" fill="#949494"/><polygon points="-37.90,-27.40 -23.30,-35.85 -19.40,-29.85 -30.90,-23.35" fill="#a3a3a3"/><polygon points="-37.90,27.40 -23.30,35.85 -19.40,29.85 -30.90,23.35" fill="#a3a3a3"/><polygon points="37.90,-27.40 23.30,-35.85 19.40,-29.85 30.90,-23.35 30.90,23.35 19.40,29.85 23.30,35.85 37.90,27.40" fill="#949494"/><polygon points="37.90,-27.40 23.30,-35.85 19.40,-29.85 30.90,-23.35" fill="#a3a3a3"/><polygon points="37.90,27.40 23.30,35.85 19.40,29.85 30.90,23.35" fill="#a3a3a3"/><polygon points="0,-26.9 23.599999999999998,-13.6 23.599999999999998,13.6 0,26.9 -23.599999999999998,13.6 -23.599999999999998,-13.6" fill="#50e6ff"/><polygon points="0,-27.2 23.9,-13.6 0,0 -23.9,-13.6" fill="#9cebff"/><polygon points="-23.9,-13.6 0,0 -23.9,13.6" fill="#50e6ff"/><polygon points="-23.9,13.6 0,0 0,27.2" fill="#9cebff"/><polygon points="23.9,-13.6 0,0 23.9,13.6" fill="#32bedd"/><polygon points="23.9,13.6 0,0 0,27.2" fill="#50e6ff"/></g>
<g transform="translate(792.9,744.1)"><polygon points="-37.90,-27.40 -23.30,-35.85 -19.40,-29.85 -30.90,-23.35 -30.90,23.35 -19.40,29.85 -23.30,35.85 -37.90,27.40" fill="#949494"/><polygon points="-37.90,-27.40 -23.30,-35.85 -19.40,-29.85 -30.90,-23.35" fill="#a3a3a3"/><polygon points="-37.90,27.40 -23.30,35.85 -19.40,29.85 -30.90,23.35" fill="#a3a3a3"/><polygon points="37.90,-27.40 23.30,-35.85 19.40,-29.85 30.90,-23.35 30.90,23.35 19.40,29.85 23.30,35.85 37.90,27.40" fill="#949494"/><polygon points="37.90,-27.40 23.30,-35.85 19.40,-29.85 30.90,-23.35" fill="#a3a3a3"/><polygon points="37.90,27.40 23.30,35.85 19.40,29.85 30.90,23.35" fill="#a3a3a3"/><polygon points="0,-26.9 23.599999999999998,-13.6 23.599999999999998,13.6 0,26.9 -23.599999999999998,13.6 -23.599999999999998,-13.6" fill="#50e6ff"/><polygon points="0,-27.2 23.9,-13.6 0,0 -23.9,-13.6" fill="#9cebff"/><polygon points="-23.9,-13.6 0,0 -23.9,13.6" fill="#50e6ff"/><polygon points="-23.9,13.6 0,0 0,27.2" fill="#9cebff"/><polygon points="23.9,-13.6 0,0 23.9,13.6" fill="#32bedd"/><polygon points="23.9,13.6 0,0 0,27.2" fill="#50e6ff"/></g>
<g transform="translate(916,744.1)"><polygon points="-37.90,-27.40 -23.30,-35.85 -19.40,-29.85 -30.90,-23.35 -30.90,23.35 -19.40,29.85 -23.30,35.85 -37.90,27.40" fill="#949494"/><polygon points="-37.90,-27.40 -23.30,-35.85 -19.40,-29.85 -30.90,-23.35" fill="#a3a3a3"/><polygon points="-37.90,27.40 -23.30,35.85 -19.40,29.85 -30.90,23.35" fill="#a3a3a3"/><polygon points="37.90,-27.40 23.30,-35.85 19.40,-29.85 30.90,-23.35 30.90,23.35 19.40,29.85 23.30,35.85 37.90,27.40" fill="#949494"/><polygon points="37.90,-27.40 23.30,-35.85 19.40,-29.85 30.90,-23.35" fill="#a3a3a3"/><polygon points="37.90,27.40 23.30,35.85 19.40,29.85 30.90,23.35" fill="#a3a3a3"/><polygon points="0,-26.9 23.599999999999998,-13.6 23.599999999999998,13.6 0,26.9 -23.599999999999998,13.6 -23.599999999999998,-13.6" fill="#50e6ff"/><polygon points="0,-27.2 23.9,-13.6 0,0 -23.9,-13.6" fill="#9cebff"/><polygon points="-23.9,-13.6 0,0 -23.9,13.6" fill="#50e6ff"/><polygon points="-23.9,13.6 0,0 0,27.2" fill="#9cebff"/><polygon points="23.9,-13.6 0,0 23.9,13.6" fill="#32bedd"/><polygon points="23.9,13.6 0,0 0,27.2" fill="#50e6ff"/></g>
<g transform="translate(427,817) scale(4.4444)"><rect x="0" y="0.63" width="18" height="12" rx="0.6" fill="url(#gVM)"/><polygon points="8.98,3.19 11.91,4.93 11.91,8.43 8.98,10.07 6.06,8.43 6.06,4.93" fill="#9cebff"/><polygon points="11.97,4.93 11.97,8.43 8.98,10.13 8.98,6.63" fill="#50e6ff"/><polygon points="11.97,4.93 8.98,6.63 6.0,4.93 8.98,3.13" fill="#c3f1ff"/><polygon points="8.98,6.63 8.98,10.13 6.0,8.43 6.0,4.93" fill="#9cebff"/><polygon points="6.0,8.43 8.98,6.63 8.98,10.13" fill="#c3f1ff"/><polygon points="11.97,8.43 8.98,6.63 8.98,10.13" fill="#9cebff"/><path d="M7.0,12.6 C7.0,14.8 6.9,16.0 5.2,16.3 A1.05,1.0 0 0 0 4.24,17.32 H13.24 A1.05,1.0 0 0 0 12.28,16.3 C10.6,16.0 10.58,14.8 10.58,12.6 Z" fill="url(#gStand)"/></g>
<g transform="translate(590.8,841.1)"><path d="M-33.6,30.6 V38.1 A33.6,13.7 0 0 0 33.6,38.1 V30.6 Z" fill="#5e9624"/><ellipse cx="0" cy="30.6" rx="33.6" ry="13.7" fill="#76bc2d"/><ellipse cx="1" cy="30.400000000000002" rx="11" ry="3.3" fill="#5e9624"/><path d="M-33.6,0 V7.5 A33.6,13.7 0 0 0 33.6,7.5 V0 Z" fill="#0078d4"/><ellipse cx="0" cy="0" rx="33.6" ry="13.7" fill="url(#gDisk)"/><ellipse cx="1" cy="-0.1" rx="11" ry="3.3" fill="#005ba1"/></g>
<g transform="translate(795.3,820.9)"><path d="M-28.3,10.2 V64.7 A28.3,10.2 0 0 0 28.3,64.7 V10.2 Z" fill="url(#gSQL)"/><ellipse cx="0" cy="10.2" rx="28.3" ry="10.2" fill="#e8e8e8"/><ellipse cx="0.2" cy="9.6" rx="21.7" ry="6.7" fill="#50e6ff"/><clipPath id="cpw795"><ellipse cx="0.2" cy="9.6" rx="21.7" ry="6.7"/></clipPath><ellipse cx="0.2" cy="16.1" rx="18.5" ry="5.2" fill="#198ab3" clip-path="url(#cpw795)"/><text x="1.25" y="51.5" text-anchor="middle" font-family="'Liberation Sans', sans-serif" font-weight="700" font-size="28.3" fill="#f2f2f2" stroke="#f2f2f2" stroke-width="0.7" stroke-linejoin="round" textLength="46.3" lengthAdjust="spacingAndGlyphs">SQL</text><path d="M31.21,52.29 L32.16,47.87 L35.04,47.87 L35.99,52.29 L38.71,53.42 L42.50,50.97 L44.53,53.00 L42.08,56.79 L43.21,59.51 L47.63,60.46 L47.63,63.34 L43.21,64.29 L42.08,67.01 L44.53,70.80 L42.50,72.83 L38.71,70.38 L35.99,71.51 L35.04,75.93 L32.16,75.93 L31.21,71.51 L28.49,70.38 L24.70,72.83 L22.67,70.80 L25.12,67.01 L23.99,64.29 L19.57,63.34 L19.57,60.46 L23.99,59.51 L25.12,56.79 L22.67,53.00 L24.70,50.97 L28.49,53.42Z M28.6,61.9 a5.0,5.0 0 1 0 10.0,0 a5.0,5.0 0 1 0 -10.0,0Z" fill="#949494" fill-rule="evenodd" stroke="#949494" stroke-width="1.2" stroke-linejoin="round"/><circle cx="33.6" cy="61.9" r="5.0" fill="#fff"/></g>
<g transform="translate(878,817)"><path d="M40.2,0.3 H57.6 Q58.8,0.3 58.2,1.4 L38.0,34.9 H57.6 Q58.8,34.9 58.1,35.9 L24.6,79.3 Q23.4,80.4 23.9,78.9 L37.2,44.3 H22.8 Q21.6,44.3 22.0,43.2 L38.8,1.2 Q39.2,0.3 40.2,0.3 Z" fill="url(#gBolt)"/><path d="M21.49,60.76 A0.9,0.9 0 0 1 20.22,60.75 L2.02,42.02 A0.9,0.9 0 0 1 2.04,40.75 L5.05,37.82 A0.9,0.9 0 0 1 6.32,37.84 L24.52,56.56 A0.9,0.9 0 0 1 24.51,57.84Z" fill="#50e6ff"/><path d="M24.13,21.84 A0.9,0.9 0 0 1 24.17,23.11 L4.99,43.58 A0.9,0.9 0 0 1 3.72,43.63 L0.66,40.75 A0.9,0.9 0 0 1 0.61,39.48 L19.80,19.01 A0.9,0.9 0 0 1 21.07,18.96Z" fill="#1490df"/><path d="M55.59,57.84 A0.9,0.9 0 0 1 55.58,56.56 L73.78,37.84 A0.9,0.9 0 0 1 75.05,37.82 L78.06,40.75 A0.9,0.9 0 0 1 78.08,42.02 L59.88,60.75 A0.9,0.9 0 0 1 58.61,60.76Z" fill="#50e6ff"/><path d="M59.03,18.96 A0.9,0.9 0 0 1 60.30,19.01 L79.49,39.48 A0.9,0.9 0 0 1 79.44,40.75 L76.38,43.63 A0.9,0.9 0 0 1 75.11,43.58 L55.93,23.11 A0.9,0.9 0 0 1 55.97,21.84Z" fill="#1490df"/></g>
<g class="lbl" opacity="0.999">
<text x="1091.1" y="60" textLength="75.1" lengthAdjust="spacing">Tenant</text>
<text x="535.2" y="185" textLength="97.6" lengthAdjust="spacing">Root MG</text>
<text x="436.7" y="312" textLength="221.4" lengthAdjust="spacing">Management Group</text>
<text x="352.7" y="415" textLength="222.0" lengthAdjust="spacing">Management Group</text>
<text x="244.1" y="536" textLength="222.6" lengthAdjust="spacing">Management Group</text>
<text x="241.3" y="649" textLength="152.8" lengthAdjust="spacing">Subscriptions</text>
<text x="203.0" y="746" textLength="192.6" lengthAdjust="spacing">Resource Groups</text>
<text x="279.8" y="863" textLength="115.8" lengthAdjust="spacing">Resources</text>
<text x="1365.9" y="189" textLength="92.1" lengthAdjust="spacing">Root SG</text>
<text x="1362.0" y="300" textLength="158.5" lengthAdjust="spacing">Service Group</text>
<text x="1362.0" y="416" textLength="158.5" lengthAdjust="spacing">Service Group</text>
<text x="958.2" y="533" textLength="159.0" lengthAdjust="spacing">Service Group</text>
<text x="1487.0" y="529" textLength="159.0" lengthAdjust="spacing">Service Group</text>
</g>
</svg></body></html>
